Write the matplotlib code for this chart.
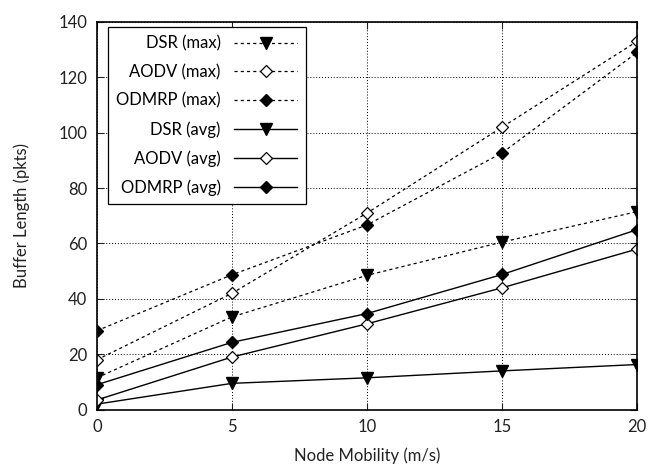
import matplotlib
matplotlib.use("Agg")
import matplotlib.pyplot as plt

# data
speed = [0, 5, 10, 15, 20]
dsr_max = [11.5, 33.5, 48.5, 60.5, 71.5]
aodv_max = [18, 42, 71, 102, 133]
odmrp_max = [28.5, 48.7, 66.7, 92.7, 129]
dsr_avg = [2, 9.5, 11.5, 14, 16.3]
aodv_avg = [3.5, 19, 31, 44, 58]
odmrp_avg = [9, 24.3, 34.7, 48.8, 65]

FS = 12
plt.rcParams['font.family'] = ['Lato', 'DejaVu Sans']
plt.rcParams['font.size'] = FS

fig = plt.figure(figsize=(6.59, 4.65), dpi=100)
ax = fig.add_axes([0.147, 0.119, 0.820, 0.834])

dot = (0, (2.5, 2.5))
ax.plot(speed, dsr_max, color='black', lw=0.9, ls=dot, marker='v', ms=8,
        mfc='black', mec='black', label='DSR (max)')
ax.plot(speed, aodv_max, color='black', lw=0.9, ls=dot, marker='D', ms=6.5,
        mfc='white', mec='black', mew=0.9, label='AODV (max)')
ax.plot(speed, odmrp_max, color='black', lw=0.9, ls=dot, marker='D', ms=6.5,
        mfc='black', mec='black', label='ODMRP (max)')
ax.plot(speed, dsr_avg, color='black', lw=1.0, ls='-', marker='v', ms=8,
        mfc='black', mec='black', label='DSR (avg)')
ax.plot(speed, aodv_avg, color='black', lw=1.0, ls='-', marker='D', ms=6.5,
        mfc='white', mec='black', mew=0.9, label='AODV (avg)')
ax.plot(speed, odmrp_avg, color='black', lw=1.0, ls='-', marker='D', ms=6.5,
        mfc='black', mec='black', label='ODMRP (avg)')

ax.set_xlim(0, 20)
ax.set_ylim(0, 140)
ax.set_xticks([0, 5, 10, 15, 20])
ax.set_yticks(range(0, 141, 20))
ax.grid(True, color='black', ls=(0, (1, 2)), lw=0.7)
ax.set_axisbelow(True)
ax.tick_params(direction='in', length=5, width=0.8, top=True, right=True,
               labelsize=FS, colors='#222222', pad=7)
for sp in ax.spines.values():
    sp.set_linewidth(1.2)

ax.set_xlabel('Node Mobility (m/s)', fontsize=FS, color='#222222', labelpad=9)
ax.set_ylabel('Buffer Length (pkts)', fontsize=FS, color='#222222', labelpad=20)

leg = ax.legend(loc='upper left', bbox_to_anchor=(0.02, 0.987), borderaxespad=0,
                markerfirst=False, handlelength=3.8, handletextpad=0.8,
                labelspacing=0.75, fancybox=False, edgecolor='black',
                framealpha=1, fontsize=FS, borderpad=0.5)
leg.get_frame().set_linewidth(0.9)

fig.savefig('out.png', dpi=100)
